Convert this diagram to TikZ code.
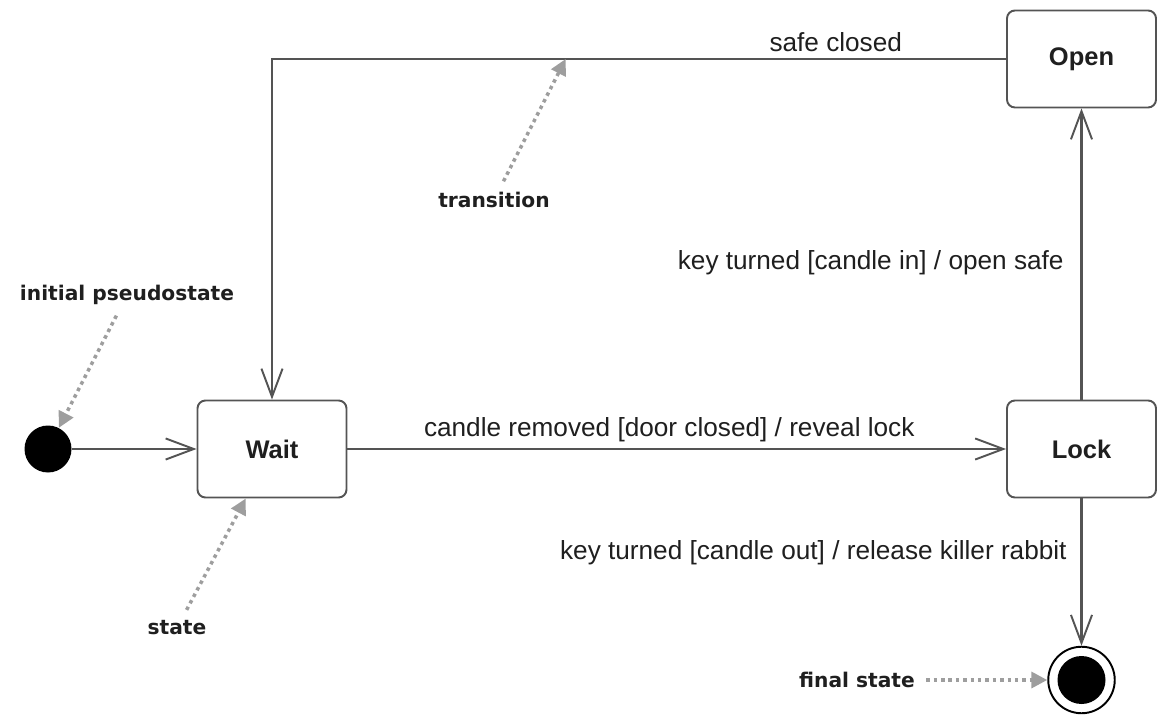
\documentclass[tikz,border=0pt]{standalone}
\usepackage{fontspec}
\setmainfont{Liberation Sans}
\newfontfamily\notefont{DejaVu Sans}
\usetikzlibrary{arrows.meta, positioning}
\definecolor{lineg}{gray}{0.33}
\definecolor{noteg}{gray}{0.62}
\definecolor{textg}{gray}{0.12}

\begin{document}
\begin{tikzpicture}
		[
	statebox/.style={draw=lineg,line width=1.1pt,rectangle,rounded corners=4.5pt,align=center,minimum width=2.98cm,minimum height=1.94cm,text=textg,font=\fontsize{14.5}{17}\selectfont\bfseries},
	startdot/.style={fill=black,shape=circle,minimum size=0.94cm,inner sep=0pt},
	enddot/.style={draw=black,line width=1.1pt,fill=white,shape=circle,minimum size=1.33cm,inner sep=0pt,
		path picture={\fill[black] (path picture bounding box.center) circle (0.48cm);}},
	trans/.style={draw=lineg,line width=1.2pt,-{Straight Barb[length=16pt,width=12pt,line width=1.1pt]}},
	tlabel/.style={text=textg,font=\fontsize{14.9}{17}\selectfont},
	note/.style={text=textg,font=\notefont\fontsize{11.5}{14}\selectfont\bfseries},
	pointer/.style={draw=noteg,line width=2pt,dash pattern=on 2pt off 2.2pt,shorten <=3pt,-{Triangle[length=9pt,width=9pt,fill=noteg]}}
	]
		\useasboundingbox (0,0) rectangle (23.4,14.48);
		\node (init) [startdot] at (0.96,5.50) {};
		\node (wait) [statebox] at (5.44,5.50) {Wait};
		\node (lock) [statebox] at (21.63,5.50) {Lock};
		\node (open) [statebox] at (21.63,13.30) {Open};
		\node (fin) [enddot] at (21.63,0.88) {};
	
		\draw [trans] (init) -- (wait);
		\draw [trans] (wait) -- node[tlabel,above,xshift=-0.15cm] {candle removed [door closed] / reveal lock} (lock);
		\draw [trans] (lock) -- node[tlabel,pos=0.47,left,xshift=-0.22cm] {key turned [candle in] / open safe} (open);
		\draw [trans] (lock) -- node[tlabel,pos=0.37,left,xshift=-0.16cm] {key turned [candle out] / release killer rabbit} (fin);
		\draw [trans] (open) -| node[tlabel,pos=0.116,above] {safe closed} coordinate[pos=0.30] (tpt) (wait);
	
		% annotations
		\node (ipl) [note] at (2.54,8.58) {initial pseudostate};
		\node (trl) [note] at (9.88,10.48) {transition};
		\node (stl) [note] at (3.54,1.92) {state};
		\node (fsl) [note] at (17.14,0.88) {final state};
		\draw [pointer] (ipl) -- (init);
		\draw [pointer] (trl) -- (tpt);
		\draw [pointer] (stl) -- (wait);
		\draw [pointer] (fsl) -- (fin);
	\end{tikzpicture}
\end{document}
